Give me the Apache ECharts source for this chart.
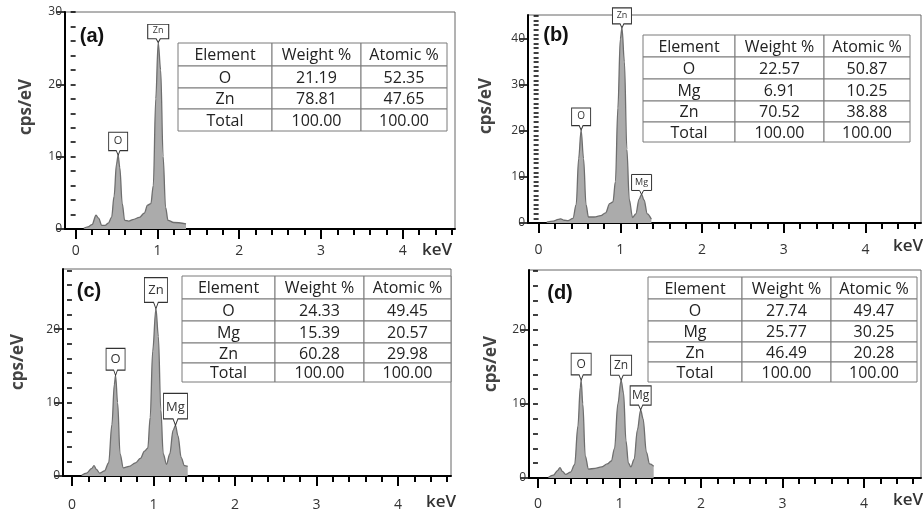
<!DOCTYPE html>
<html>
<head>
<meta charset="utf-8">
<script src="https://cdn.jsdelivr.net/npm/echarts@6/dist/echarts.min.js"></script>
<style>
  html, body { margin: 0; padding: 0; background: #fff; }
  #chart { width: 923px; height: 513px; }
</style>
</head>
<body>
<div id="chart"></div>
<script>
// spectra: energy (keV) and counts (cps/eV)
const energyA = [0.10, 0.15, 0.20, 0.25, 0.28, 0.32, 0.36, 0.40, 0.44, 0.47, 0.50, 0.52, 0.54, 0.57, 0.60, 0.65, 0.70, 0.78, 0.84, 0.88, 0.92, 0.95, 0.98, 1.01, 1.04, 1.07, 1.10, 1.13, 1.20, 1.35];
const cpsA    = [0.1, 0.3, 0.6, 1.9, 1.5, 0.5, 0.5, 0.8, 1.6, 4.5, 9.0, 10.2, 8.5, 3.5, 1.2, 1.1, 1.3, 1.6, 2.2, 3.3, 3.5, 6.0, 18.0, 25.8, 22.0, 10.0, 3.0, 1.2, 0.9, 0.7];

const energyB = [0.10, 0.18, 0.24, 0.27, 0.31, 0.36, 0.42, 0.46, 0.49, 0.52, 0.55, 0.58, 0.61, 0.68, 0.76, 0.82, 0.87, 0.91, 0.94, 0.97, 1.00, 1.02, 1.05, 1.08, 1.11, 1.15, 1.19, 1.23, 1.26, 1.29, 1.33, 1.38];
const cpsB    = [0.2, 0.4, 0.8, 0.9, 0.6, 0.5, 1.0, 4.0, 14.0, 20.2, 14.0, 4.0, 1.3, 1.3, 1.6, 2.2, 4.2, 4.6, 9.0, 25.0, 40.0, 42.4, 35.0, 16.0, 5.0, 1.2, 2.0, 5.2, 6.2, 5.0, 2.0, 0.8];

const energyC = [0.12, 0.18, 0.24, 0.27, 0.30, 0.34, 0.40, 0.45, 0.49, 0.52, 0.535, 0.56, 0.59, 0.63, 0.70, 0.78, 0.84, 0.89, 0.93, 0.96, 0.99, 1.03, 1.06, 1.09, 1.12, 1.16, 1.20, 1.24, 1.27, 1.30, 1.34, 1.38, 1.42];
const cpsC    = [0.1, 0.4, 1.0, 1.4, 0.9, 0.4, 0.7, 1.8, 7.0, 12.5, 13.7, 10.0, 3.0, 1.1, 1.3, 1.8, 2.4, 3.4, 3.8, 8.0, 17.0, 22.8, 19.0, 9.0, 3.0, 1.6, 3.0, 6.2, 6.9, 5.5, 2.5, 1.4, 1.3];

const energyD = [0.13, 0.19, 0.24, 0.27, 0.30, 0.34, 0.40, 0.45, 0.49, 0.52, 0.53, 0.55, 0.58, 0.62, 0.70, 0.78, 0.85, 0.90, 0.94, 0.98, 1.02, 1.05, 1.08, 1.11, 1.14, 1.18, 1.22, 1.26, 1.29, 1.33, 1.37, 1.42];
const cpsD    = [0.1, 0.4, 1.0, 1.4, 0.9, 0.5, 0.8, 1.8, 7.0, 12.3, 13.2, 10.0, 3.0, 1.2, 1.3, 1.5, 1.9, 2.3, 4.0, 10.0, 13.2, 11.5, 5.0, 2.0, 1.5, 2.5, 6.5, 9.2, 8.0, 3.5, 1.9, 1.6];

// peak labels and their line energies
const peaksA = ['O', 'Zn'];
const peakEnergyA = [0.52, 1.01];
const peaksB = ['O', 'Zn', 'Mg'];
const peakEnergyB = [0.52, 1.02, 1.26];
const peaksC = ['O', 'Zn', 'Mg'];
const peakEnergyC = [0.535, 1.03, 1.27];
const peaksD = ['O', 'Zn', 'Mg'];
const peakEnergyD = [0.53, 1.02, 1.26];

// composition tables
const tableHeader = ['Element', 'Weight %', 'Atomic %'];
const elementsA = ['O', 'Zn', 'Total'];
const weightA = ['21.19', '78.81', '100.00'];
const atomicA = ['52.35', '47.65', '100.00'];
const elementsB = ['O', 'Mg', 'Zn', 'Total'];
const weightB = ['22.57', '6.91', '70.52', '100.00'];
const atomicB = ['50.87', '10.25', '38.88', '100.00'];
const elementsC = ['O', 'Mg', 'Zn', 'Total'];
const weightC = ['24.33', '15.39', '60.28', '100.00'];
const atomicC = ['49.45', '20.57', '29.98', '100.00'];
const elementsD = ['O', 'Mg', 'Zn', 'Total'];
const weightD = ['27.74', '25.77', '46.49', '100.00'];
const atomicD = ['49.47', '30.25', '20.28', '100.00'];

// ticks
const xMajorTicks = [0, 1, 2, 3, 4];
const xMinorTicks = [0, 0.2, 0.4, 0.6, 0.8, 1, 1.2, 1.4, 1.6, 1.8, 2, 2.2, 2.4, 2.6, 2.8, 3, 3.2, 3.4, 3.6, 3.8, 4, 4.2, 4.4, 4.6];
const yMajorA = [0, 10, 20, 30];
const yMajorB = [0, 10, 20, 30, 40];
const yMajorC = [0, 10, 20];
const yMajorD = [0, 10, 20];

const stepTicks = (max, step) => {
  const out = [];
  for (let v = 0; v <= max + 1e-9; v += step) out.push(Math.round(v * 100) / 100);
  return out;
};

const FONT = '"Open Sans", "Noto Sans", sans-serif';

const panels = [
  {
    tag: '(a)', energy: energyA, cps: cpsA, peaks: peaksA, peakE: peakEnergyA,
    rows: elementsA, weight: weightA, atomic: atomicA, yMajor: yMajorA,
    grid: { left: 65, top: 12, width: 390, height: 217 },
    xMin: -0.13, xMax: 4.64, yMax: 30, yStep: 2, xLabelMargin: 15,
    boxes: [[19, 18, 11], [21, 13, 9]],
    table: { x: 178, y: 43, cols: [94, 89, 86], rowH: [23, 22, 21, 22] },
    tagPos: [92, 36], yNamePos: [26, 107], kevPos: [437, 250]
  },
  {
    tag: '(b)', energy: energyB, cps: cpsB, peaks: peaksB, peakE: peakEnergyB,
    rows: elementsB, weight: weightB, atomic: atomicB, yMajor: yMajorB,
    grid: { left: 528, top: 15, width: 393, height: 208 },
    xMin: -0.13, xMax: 4.68, yMax: 45.2, yStep: 1, xLabelMargin: 20,
    boxes: [[19, 17, 10], [19, 15, 9], [20, 15, 9]],
    table: { x: 643, y: 35, cols: [92, 89, 86], rowH: [22, 22, 22, 21, 20] },
    tagPos: [556, 35], yNamePos: [486, 106], kevPos: [908, 246]
  },
  {
    tag: '(c)', energy: energyC, cps: cpsC, peaks: peaksC, peakE: peakEnergyC,
    rows: elementsC, weight: weightC, atomic: atomicC, yMajor: yMajorC,
    grid: { left: 63, top: 269, width: 388, height: 207 },
    xMin: -0.11, xMax: 4.65, yMax: 28.2, yStep: 2, xLabelMargin: 22,
    boxes: [[19, 22, 13], [23, 26, 13], [24, 27, 13]],
    table: { x: 182, y: 276, cols: [93, 89, 87], rowH: [23, 22, 22, 20, 19] },
    tagPos: [89, 291], yNamePos: [18, 362], kevPos: [441, 502]
  },
  {
    tag: '(d)', energy: energyD, cps: cpsD, peaks: peaksD, peakE: peakEnergyD,
    rows: elementsD, weight: weightD, atomic: atomicD, yMajor: yMajorD,
    grid: { left: 529, top: 270, width: 392, height: 208 },
    xMin: -0.11, xMax: 4.70, yMax: 28.1, yStep: 2, xLabelMargin: 19,
    boxes: [[20, 22, 12], [21, 20, 12], [21, 19, 12]],
    table: { x: 648, y: 277, cols: [94, 89, 86], rowH: [22, 22, 21, 20, 20] },
    tagPos: [560, 293], yNamePos: [491, 364], kevPos: [908, 500]
  }
];

const peakHeight = (energy, cps, e) => {
  let best = 0;
  energy.forEach((x, k) => {
    if (Math.abs(x - e) <= 0.03 && cps[k] > best) best = cps[k];
  });
  return best;
};

const BOX_PATH = 'path://M0,0H20V16H12L10,20L8,16H0Z';
const POINTER = 5;

const grids = [];
const xAxes = [];
const yAxes = [];
const series = [];
const graphics = [];

panels.forEach((p, i) => {
  grids.push({
    ...p.grid,
    show: true,
    borderColor: '#666',
    borderWidth: 1,
    backgroundColor: 'transparent',
    containLabel: false,
    outerBoundsMode: 'none'
  });

  // major x axis: line, long ticks, labels
  xAxes.push({
    gridIndex: i,
    type: 'value',
    position: 'bottom',
    min: p.xMin,
    max: p.xMax,
    axisLine: { show: true, onZero: false, lineStyle: { color: '#000', width: 2 } },
    axisTick: { show: true, customValues: xMajorTicks, length: 10, lineStyle: { color: '#000', width: 2 } },
    axisLabel: { customValues: xMajorTicks, margin: p.xLabelMargin, fontSize: 14, color: '#333', fontFamily: FONT },
    splitLine: { show: false }
  });
  // minor x ticks
  xAxes.push({
    gridIndex: i,
    type: 'value',
    position: 'bottom',
    min: p.xMin,
    max: p.xMax,
    axisLine: { show: false },
    axisTick: { show: true, customValues: xMinorTicks, length: 6, lineStyle: { color: '#000', width: 2 } },
    axisLabel: { show: false },
    splitLine: { show: false }
  });

  yAxes.push({
    gridIndex: i,
    type: 'value',
    position: 'left',
    min: 0,
    max: p.yMax,
    axisLine: { show: true, onZero: false, lineStyle: { color: '#000', width: 2 } },
    axisTick: { show: true, customValues: p.yMajor, length: 9, lineStyle: { color: '#000', width: 1.5 } },
    axisLabel: { customValues: p.yMajor, margin: 3, fontSize: 12, color: '#333', fontFamily: FONT },
    splitLine: { show: false }
  });
  yAxes.push({
    gridIndex: i,
    type: 'value',
    position: 'left',
    min: 0,
    max: p.yMax,
    axisLine: { show: false },
    axisTick: { show: true, customValues: stepTicks(p.yMax, p.yStep), length: 5, lineStyle: { color: '#000', width: 1.5 } },
    axisLabel: { show: false },
    splitLine: { show: false }
  });

  series.push({
    type: 'line',
    xAxisIndex: 2 * i,
    yAxisIndex: 2 * i,
    data: p.energy.map((e, k) => [e, p.cps[k]]),
    smooth: 0.35,
    smoothMonotone: 'x',
    symbol: 'none',
    silent: true,
    animation: false,
    lineStyle: { color: '#6e6e6e', width: 1.3 },
    areaStyle: { color: '#ababab', opacity: 1 },
    markPoint: {
      silent: true,
      animation: false,
      symbol: BOX_PATH,
      symbolKeepAspect: false,
      itemStyle: { color: '#fff', borderColor: '#333', borderWidth: 1 },
      data: p.peaks.map((name, k) => {
        const [w, h, fs] = p.boxes[k];
        return {
          name,
          coord: [p.peakE[k], peakHeight(p.energy, p.cps, p.peakE[k])],
          symbolSize: [w, h + POINTER],
          symbolOffset: [0, -(h + POINTER) / 2],
          label: {
            show: true,
            position: 'inside',
            formatter: '{b}',
            color: '#333',
            fontSize: fs,
            fontFamily: FONT,
            offset: [0, -POINTER / 2]
          }
        };
      })
    }
  });

  // composition table
  const t = p.table;
  const cells = [tableHeader].concat(p.rows.map((r, k) => [r, p.weight[k], p.atomic[k]]));
  let y = t.y;
  cells.forEach((row, r) => {
    let x = t.x;
    row.forEach((txt, c) => {
      graphics.push({
        type: 'rect',
        z: 10,
        shape: { x, y, width: t.cols[c], height: t.rowH[r] },
        style: { fill: '#fff', stroke: '#7a7a7a', lineWidth: 1 }
      });
      graphics.push({
        type: 'text',
        z: 11,
        style: {
          text: txt,
          x: x + t.cols[c] / 2,
          y: y + t.rowH[r] / 2 + 1,
          align: 'center',
          verticalAlign: 'middle',
          fill: '#222',
          fontSize: 16,
          fontFamily: FONT
        }
      });
      x += t.cols[c];
    });
    y += t.rowH[r];
  });

  graphics.push({
    type: 'text',
    z: 11,
    style: {
      text: p.tag, x: p.tagPos[0], y: p.tagPos[1], align: 'center', verticalAlign: 'middle',
      fill: '#111', fontSize: 20, fontWeight: 'bold', fontFamily: '"Liberation Sans", Arial, sans-serif'
    }
  });
  graphics.push({
    type: 'text',
    z: 11,
    x: p.yNamePos[0],
    y: p.yNamePos[1],
    rotation: Math.PI / 2,
    style: {
      text: 'cps/eV', x: 0, y: 0, align: 'center', verticalAlign: 'middle',
      fill: '#444', fontSize: 17, fontWeight: 'bold', fontFamily: FONT
    }
  });
  graphics.push({
    type: 'text',
    z: 11,
    style: {
      text: 'keV', x: p.kevPos[0], y: p.kevPos[1], align: 'center', verticalAlign: 'middle',
      fill: '#333', fontSize: 17, fontWeight: 600, fontFamily: FONT
    }
  });
});

const chart = echarts.init(document.getElementById('chart'));
chart.setOption({
  animation: false,
  backgroundColor: '#fff',
  grid: grids,
  xAxis: xAxes,
  yAxis: yAxes,
  series,
  graphic: graphics
});
</script>
</body>
</html>
